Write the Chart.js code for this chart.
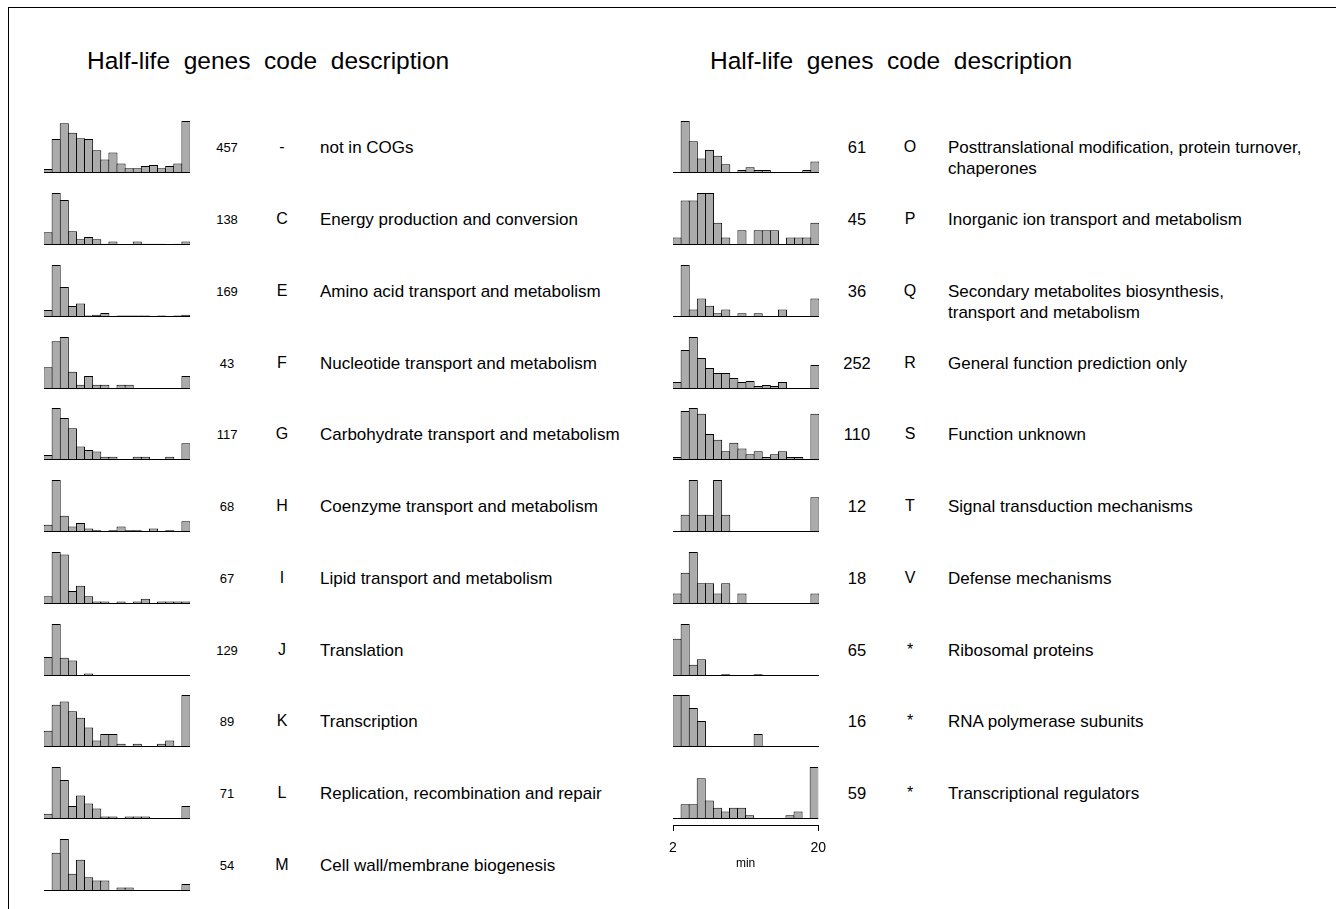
<!DOCTYPE html>
<html>
<head>
<meta charset="utf-8">
<script src="https://cdn.jsdelivr.net/npm/chart.js@4.4.1/dist/chart.umd.min.js"></script>
<style>
  body { margin: 0; background: #fff; font-family: "Liberation Sans", Arial, sans-serif; }
  #page { position: relative; width: 1336px; height: 909px; overflow: hidden; }
  #frame { position: absolute; left: 8px; top: 7px; width: 1400px; height: 1000px;
           border-left: 1px solid #000; border-top: 1px solid #000; }
  .t { position: absolute; white-space: pre; color: #000; line-height: 1; }
  .c { transform: translate(-50%, -50%); }
  .l { transform: translateY(-50%); }
  .hist { position: absolute; }
</style>
</head>
<body>
<div id="page">
  <div id="frame"></div>
</div>
<script>
// bins of 1 min, 2..20
const binStarts = [2, 3, 4, 5, 6, 7, 8, 9, 10, 11, 12, 13, 14, 15, 16, 17, 18, 19];

// left column
const leftCounts = [457, 138, 169, 43, 117, 68, 67, 129, 89, 71, 54];
const leftCodes = ['-', 'C', 'E', 'F', 'G', 'H', 'I', 'J', 'K', 'L', 'M'];
const leftDesc = [
  'not in COGs',
  'Energy production and conversion',
  'Amino acid transport and metabolism',
  'Nucleotide transport and metabolism',
  'Carbohydrate transport and metabolism',
  'Coenzyme transport and metabolism',
  'Lipid transport and metabolism',
  'Translation',
  'Transcription',
  'Replication, recombination and repair',
  'Cell wall/membrane biogenesis'
];
const leftBins = [
  [5, 43, 63, 51, 44, 43, 29, 17, 26, 12, 6, 6, 9, 10, 6, 9, 12, 66],
  [11, 45, 39, 12, 5, 7, 5, 1, 3, 0, 0, 3, 1, 1, 1, 0, 1, 3],
  [9, 66, 38, 14, 17, 2, 3, 5, 0, 2, 2, 2, 2, 0, 2, 0, 2, 3],
  [5, 11, 12, 4, 1, 3, 1, 1, 0, 1, 1, 0, 0, 0, 0, 0, 0, 3],
  [3, 31, 25, 19, 8, 6, 5, 2, 2, 0, 0, 2, 2, 0, 0, 2, 0, 10],
  [4, 29, 9, 3, 5, 2, 1, 0, 1, 3, 1, 1, 0, 2, 0, 1, 0, 6],
  [3, 20, 19, 5, 7, 3, 1, 1, 0, 1, 0, 1, 2, 0, 1, 1, 1, 1],
  [22, 60, 21, 18, 1, 3, 1, 1, 0, 0, 1, 0, 0, 0, 0, 0, 0, 1],
  [5, 13, 14, 11, 9, 6, 2, 4, 4, 1, 0, 1, 0, 0, 1, 2, 0, 16],
  [2, 20, 15, 5, 9, 6, 4, 1, 1, 0, 1, 1, 1, 0, 0, 0, 0, 5],
  [0, 11, 15, 5, 9, 4, 3, 3, 0, 1, 1, 0, 0, 0, 0, 0, 0, 2]
];

// right column
const rightCounts = [61, 45, 36, 252, 110, 12, 18, 65, 16, 59];
const rightCodes = ['O', 'P', 'Q', 'R', 'S', 'T', 'V', '*', '*', '*'];
const rightDesc = [
  'Posttranslational modification, protein turnover,\nchaperones',
  'Inorganic ion transport and metabolism',
  'Secondary metabolites biosynthesis,\ntransport and metabolism',
  'General function prediction only',
  'Function unknown',
  'Signal transduction mechanisms',
  'Defense mechanisms',
  'Ribosomal proteins',
  'RNA polymerase subunits',
  'Transcriptional regulators'
];
const rightBins = [
  [0, 18, 11, 5, 8, 6, 3, 0, 1, 2, 1, 1, 0, 0, 0, 0, 1, 4],
  [1, 6, 6, 7, 7, 3, 1, 0, 2, 0, 2, 2, 2, 0, 1, 1, 1, 3],
  [0, 14, 2, 5, 3, 1, 2, 0, 1, 0, 1, 0, 0, 2, 0, 0, 0, 5],
  [7, 39, 52, 31, 21, 16, 16, 11, 7, 8, 3, 4, 3, 7, 1, 1, 1, 24],
  [1, 17, 18, 16, 9, 7, 3, 6, 4, 2, 3, 1, 2, 3, 1, 1, 0, 16],
  [0, 1, 3, 1, 1, 3, 1, 0, 0, 0, 0, 0, 0, 0, 0, 0, 0, 2],
  [1, 3, 5, 2, 2, 1, 2, 0, 1, 0, 0, 0, 0, 0, 0, 0, 0, 1],
  [20, 28, 6, 9, 0, 0, 1, 0, 0, 0, 1, 0, 0, 0, 0, 0, 0, 0],
  [4, 4, 3, 2, 0, 0, 0, 0, 0, 0, 1, 0, 0, 0, 0, 0, 0, 0],
  [0, 4, 4, 11, 5, 3, 2, 3, 3, 1, 0, 0, 0, 0, 1, 2, 0, 14]
];

const axisTicks = [2, 20];
const titleText = 'Half-life  genes  code  description';

// layout
const HW = 146, HH = 52;
const ROW0 = 173.3, ROW_STEP = 71.75;
const page = document.getElementById('page');

function addText(txt, x, y, size, cls) {
  const d = document.createElement('div');
  d.className = 't ' + cls;
  d.style.left = x + 'px';
  d.style.top = y + 'px';
  d.style.fontSize = size + 'px';
  d.textContent = txt;
  page.appendChild(d);
  return d;
}

// baseline drawn along the whole histogram
const baseline = {
  id: 'baseline',
  afterDatasetsDraw(chart) {
    const { ctx, chartArea: a, scales: { y } } = chart;
    const py = Math.round(y.getPixelForValue(0)) - 0.5;
    ctx.save();
    ctx.strokeStyle = '#000';
    ctx.lineWidth = 1.2;
    ctx.beginPath();
    ctx.moveTo(a.left, py);
    ctx.lineTo(a.right, py);
    ctx.stroke();
    ctx.restore();
  }
};

function makeHist(left, base, values, withAxis) {
  const padX = withAxis ? 16 : 0;
  const gap = 6, axisH = 46;
  const w = HW + padX * 2;
  const h = HH + (withAxis ? gap + axisH : 0);
  const c = document.createElement('canvas');
  c.className = 'hist';
  c.width = w; c.height = h;
  c.style.left = (left - padX) + 'px';
  c.style.top = (base - HH) + 'px';
  page.appendChild(c);

  const scales = {
    x: { display: false },
    y: { display: false, min: 0, max: Math.max(...values) }
  };
  if (withAxis) {
    scales.x = {
      display: true, weight: 0,
      grid: { display: false }, border: { display: false }, ticks: { display: false },
      afterFit: s => { s.height = gap; }
    };
    scales.xm = {
      type: 'linear', position: 'bottom', weight: 1,
      offset: false,
      min: axisTicks[0], max: axisTicks[1],
      afterBuildTicks: s => { s.ticks = axisTicks.map(v => ({ value: v })); },
      afterFit: s => { s.height = axisH; },
      grid: { offset: false, drawOnChartArea: false, drawTicks: true, tickLength: 6, color: '#000', lineWidth: 1 },
      border: { display: true, color: '#000', width: 1 },
      ticks: { color: '#000', font: { size: 14, family: 'Liberation Sans' }, padding: 9, maxRotation: 0, autoSkip: false },
      title: { display: true, text: 'min', color: '#000', font: { size: 12, family: 'Liberation Sans' }, padding: 0 }
    };
  }

  new Chart(c, {
    type: 'bar',
    data: {
      labels: binStarts,
      datasets: [{
        data: values,
        xAxisID: 'x',
        backgroundColor: '#ababab',
        borderColor: '#000',
        borderWidth: 1,
        borderSkipped: false,
        categoryPercentage: 1,
        barPercentage: (HW / 18 + 1) / (HW / 18)
      }]
    },
    options: {
      responsive: false,
      animation: false,
      events: [],
      layout: { padding: { left: padX, right: padX, top: 0, bottom: 0 } },
      plugins: { legend: { display: false }, tooltip: { enabled: false } },
      scales
    },
    plugins: [baseline]
  });
}

// titles
addText(titleText, 87, 61, 24.5, 'l');
addText(titleText, 710, 61, 24.5, 'l');

leftBins.forEach((vals, i) => {
  const base = ROW0 + ROW_STEP * i;
  const mid = base - 26;
  makeHist(44, base, vals, false);
  addText(String(leftCounts[i]), 227, mid, 13, 'c');
  addText(leftCodes[i], 282, mid, 16, 'c');
  leftDesc[i].split('\n').forEach((line, k) => addText(line, 320, mid + 21 * k, 17, 'l'));
});

rightBins.forEach((vals, i) => {
  const base = ROW0 + ROW_STEP * i;
  const mid = base - 26;
  makeHist(673, base, vals, i === rightBins.length - 1);
  addText(String(rightCounts[i]), 857, mid, 16.5, 'c');
  addText(rightCodes[i], 910, mid, 16, 'c');
  rightDesc[i].split('\n').forEach((line, k) => addText(line, 948, mid + 21 * k, 17, 'l'));
});
</script>
</body>
</html>
